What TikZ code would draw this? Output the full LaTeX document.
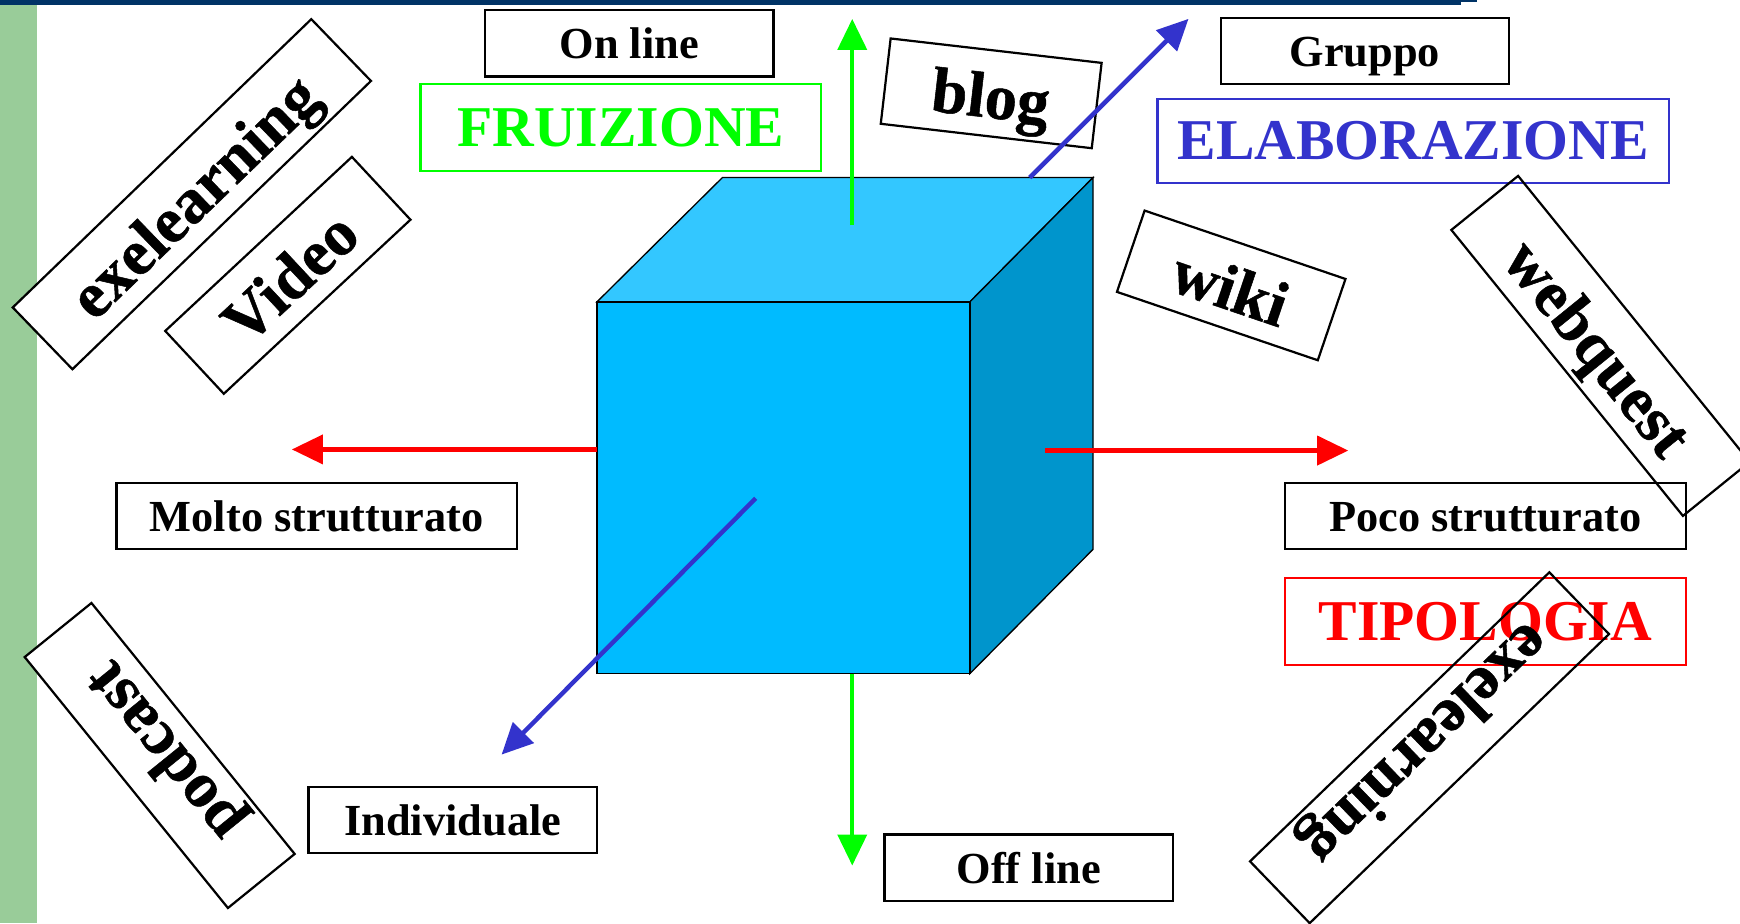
\documentclass[tikz,border=0pt]{standalone}
\usepackage{fontspec}
\setmainfont{Liberation Serif}
\newfontfamily\toolfont{Liberation Serif}[FakeBold=0.8]
\usetikzlibrary{arrows.meta}
\definecolor{barblue}{HTML}{003366}
\definecolor{stripgreen}{HTML}{99CC99}
\definecolor{cubefront}{HTML}{00BBFF}
\definecolor{cubetop}{HTML}{33C7FF}
\definecolor{cubeside}{HTML}{0095CC}
\definecolor{axgreen}{HTML}{00FF00}
\definecolor{axred}{HTML}{FF0000}
\definecolor{axblue}{HTML}{3333CC}

\begin{document}
\begin{tikzpicture}[x=0.5pt, y=-0.5pt,
    namebox/.style={draw, line width=1pt, inner sep=0pt, minimum height=30pt,
        text height=14pt, text depth=0pt,
        font=\fontsize{20}{24}\selectfont\bfseries},
    headbox/.style={draw=#1, text=#1, line width=1pt, inner sep=0pt, minimum height=39pt,
        font=\fontsize{26}{30}\selectfont\bfseries},
    toolbox/.style={draw, line width=1pt, inner sep=0pt, minimum height=38.7pt,
        text height=24pt, text depth=2pt,
        font=\fontsize{29}{34}\toolfont\bfseries},
    axisarrow/.style={line width=2pt, -{Triangle[length=14pt,width=13pt]}}]
    \useasboundingbox (0,0) rectangle (1568,832);
    \clip (0,0) rectangle (1568,832);

    % Draw the page frame
    \fill[stripgreen] (0,4.5) rectangle (33.5,832);
    \fill[barblue] (0,0) rectangle (1317,4.5);
    \fill[barblue] (1317,0) rectangle (1331,1.5);

    % Draw the cube
    \coordinate (fa) at (538,272);
    \coordinate (fb) at (874,272);
    \coordinate (fc) at (874,607);
    \coordinate (fd) at (538,607);
    \coordinate (ba) at (651,160);
    \coordinate (bb) at (985,160);
    \coordinate (bc) at (985,495);
    \filldraw[fill=cubetop, line width=0.6pt] (fa) -- (ba) -- (bb) -- (fb) -- cycle;
    \filldraw[fill=cubeside, line width=0.6pt] (fb) -- (bb) -- (bc) -- (fc) -- cycle;
    \filldraw[fill=cubefront, line width=0.6pt] (fa) -- (fb) -- (fc) -- (fd) -- cycle;

    % Labels of the axes
    \node[namebox, minimum width=130pt] (online) at (567,39) {On line};
    \node[namebox, minimum width=130pt] (offline) at (927,782) {Off line};
    \node[namebox, minimum width=130pt] (gruppo) at (1230,46) {Gruppo};
    \node[namebox, minimum width=130pt] (individuale) at (408,739) {Individuale};
    \node[namebox, minimum width=180.5pt] (molto) at (285.5,465) {Molto strutturato};
    \node[namebox, minimum width=180.5pt] (poco) at (1338.5,465) {Poco strutturato};

    \node[headbox=axgreen, minimum width=180.5pt] (fruizione) at (559.5,115) {FRUIZIONE};
    \node[headbox=axblue, minimum width=230.5pt, minimum height=38pt] (elaborazione) at (1273.5,127) {ELABORAZIONE};
    \node[headbox=axred, minimum width=180.5pt] (tipologia) at (1338.5,560) {TIPOLOGIA};

    % Tools, turned
    \node[toolbox, fill=white, minimum width=187pt, rotate=44] (exeA) at (172.9,175) {exelearning};
    \node[toolbox, minimum width=115pt, rotate=43] (video) at (259.4,248.1) {Video};
    \node[toolbox, minimum width=95.7pt, rotate=-6.6] (blog) at (893.2,84.1) {blog};
    \node[toolbox, minimum width=95.6pt, rotate=-18.8] (wiki) at (1109.5,257.2) {wiki};
    \node[toolbox, minimum width=165.8pt, rotate=-51] (webquest) at (1442.3,311.7) {webquest};
    \node[toolbox, minimum width=187.5pt, rotate=224] (exeB) at (1288.2,673.8) {exelearning};
    \node[toolbox, fill=white, minimum width=145.5pt, rotate=129] (podcast) at (143.9,680.8) {podcast};

    % Add the three axes
    \coordinate (upS) at (768,203);
    \coordinate (upE) at (768,17);
    \coordinate (downS) at (768,607);
    \coordinate (downE) at (768,780);
    \coordinate (leftS) at (538,405);
    \coordinate (leftE) at (263,405);
    \coordinate (rightS) at (942,406);
    \coordinate (rightE) at (1215,406);
    \coordinate (backS) at (928,160);
    \coordinate (backE) at (1071,17);
    \coordinate (frontS) at (681,449);
    \coordinate (frontE) at (452,680);
    \draw[axisarrow, axgreen] (upS) -- (upE);
    \draw[axisarrow, axgreen] (downS) -- (downE);
    \draw[axisarrow, axred] (leftS) -- (leftE);
    \draw[axisarrow, axred] (rightS) -- (rightE);
    \draw[axisarrow, axblue] (backS) -- (backE);
    \draw[axisarrow, axblue] (frontS) -- (frontE);
\end{tikzpicture}
\end{document}
